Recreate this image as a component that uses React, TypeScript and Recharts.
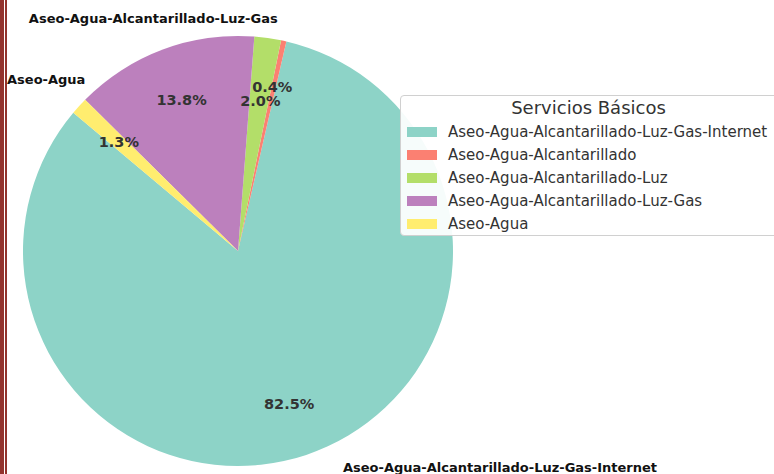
import { Legend, Pie, PieChart } from 'recharts';

const categories = [
  'Aseo-Agua-Alcantarillado-Luz-Gas-Internet',
  'Aseo-Agua-Alcantarillado',
  'Aseo-Agua-Alcantarillado-Luz',
  'Aseo-Agua-Alcantarillado-Luz-Gas',
  'Aseo-Agua',
];
const shares = [82.5, 0.4, 2.0, 13.8, 1.3];
const colors = ['#8dd3c7', '#fb8072', '#b3de69', '#bc80bd', '#ffed6f'];
// only some slices carry an outside name label in the original
const showName = [true, false, false, true, true];

// small nudges (px) to land the texts where the original has them
const nameNudge = [
  [187, -8],
  [0, 0],
  [0, 0],
  [-2, -11],
  [-17, -12],
];
const pctNudge = [
  [0, 0],
  [0, -6],
  [0, 10],
  [0, 0],
  [0, 0],
];

const data = categories.map((name, i) => ({
  name,
  value: shares[i],
  fill: colors[i],
}));

const RAD = Math.PI / 180;
const FONT = '"DejaVu Sans", sans-serif';

function SliceLabels(props: any) {
  const { cx, cy, midAngle, outerRadius, index, percent } = props;
  const cos = Math.cos(-midAngle * RAD);
  const sin = Math.sin(-midAngle * RAD);
  const px = cx + outerRadius * 0.75 * cos + pctNudge[index][0];
  const py = cy + outerRadius * 0.75 * sin + pctNudge[index][1];
  const nx = cx + outerRadius * 1.1 * cos + nameNudge[index][0];
  const ny = cy + outerRadius * 1.1 * sin + nameNudge[index][1];
  return (
    <g>
      <text
        x={px}
        y={py}
        textAnchor="middle"
        dominantBaseline="central"
        fill="#333333"
        fontFamily={FONT}
        fontWeight="bold"
        fontSize={14.5}
      >
        {(percent * 100).toFixed(1)}%
      </text>
      {showName[index] && (
        <text
          x={nx}
          y={ny}
          textAnchor="middle"
          dominantBaseline="central"
          fill="#111111"
          fontFamily={FONT}
          fontWeight="bold"
          fontSize={13}
        >
          {categories[index]}
        </text>
      )}
    </g>
  );
}

// legend keeps the data order (teal first), like the original
function LegendBox() {
  return (
    <div
      style={{
        border: '1px solid #d0d0d0',
        borderRadius: 4,
        background: 'rgba(255,255,255,0.92)',
        width: 390,
        height: 141,
        boxSizing: 'border-box',
        fontFamily: FONT,
        color: '#333',
        paddingTop: 0,
      }}
    >
      <div style={{ fontSize: 18, textAlign: 'center', width: 375, lineHeight: '24px' }}>
        Servicios Básicos
      </div>
      {categories.map((name, i) => (
        <div
          key={name}
          style={{ display: 'flex', alignItems: 'center', height: 23, fontSize: 15 }}
        >
          <span
            style={{
              display: 'inline-block',
              width: 30,
              height: 10,
              marginLeft: 6,
              marginRight: 11,
              background: colors[i],
            }}
          />
          <span>{name}</span>
        </div>
      ))}
    </div>
  );
}

export default function App() {
  return (
    <div
      style={{
        position: 'absolute',
        left: 0,
        top: 0,
        width: 774,
        height: 474,
        background: '#ffffff',
        overflow: 'hidden',
      }}
    >
      <div style={{ position: 'absolute', left: 0, top: 0, width: 4, height: 474, background: '#93332d' }} />
      <div style={{ position: 'absolute', left: 5, top: 0, width: 2, height: 474, background: '#93332d' }} />
      <PieChart width={774} height={474} margin={{ top: 0, right: 0, bottom: 0, left: 0 }}>
        <Pie
          data={data}
          dataKey="value"
          nameKey="name"
          cx={238}
          cy={251}
          outerRadius={215}
          startAngle={140}
          endAngle={500}
          stroke="none"
          labelLine={false}
          label={SliceLabels}
          isAnimationActive={false}
        />
        <Legend
          layout="horizontal"
          verticalAlign="middle"
          align="center"
          content={LegendBox}
          wrapperStyle={{ left: 400, top: 95, width: 390, height: 141 }}
        />
      </PieChart>
    </div>
  );
}
